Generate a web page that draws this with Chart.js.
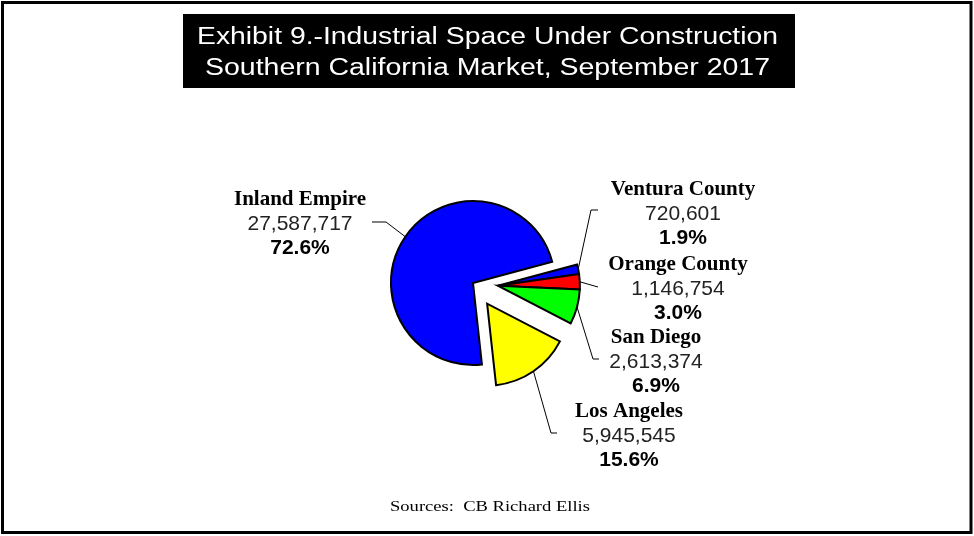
<!DOCTYPE html>
<html><head><meta charset="utf-8">
<script src="https://cdn.jsdelivr.net/npm/chart.js@4.4.1/dist/chart.umd.min.js"></script>
<style>html,body{margin:0;padding:0;background:#fff;}canvas{display:block;}</style>
</head><body>
<canvas id="c" width="974" height="536"></canvas>
<script>
// ---- data ----
const categories = ['Ventura County', 'Orange County', 'San Diego', 'Los Angeles', 'Inland Empire'];
const values = [720601, 1146754, 2613374, 5945545, 27587717];
const titleLines = ['Exhibit 9.-Industrial Space Under Construction', 'Southern California Market, September 2017'];
const sourceText = 'Sources:  CB Richard Ellis';

// ---- style / layout ----
const sliceColors = ['#0000ff', '#ff0000', '#00ff00', '#ffff00', '#0000ff'];
// slices in the same explode group are pulled out together along the group's mid-angle
const explodeGroup = [1, 1, 1, 2, 0];
const explodeDist = [0, 25, 25];
const labelLayout = [
  { x: 683, y: 195, leader: [[591, 210], [598, 210]] },
  { x: 678, y: 270, leader: [[598, 287]] },
  { x: 656, y: 343, leader: [[593, 359], [599, 359]] },
  { x: 629, y: 417, leader: [[551, 433], [557, 433]] },
  { x: 300, y: 205, leader: [[386, 222], [372, 222]] }
];

const total = values.reduce((a, b) => a + b, 0);

function drawFitted(ctx, text, cx, y, font, width) {
  ctx.save();
  ctx.font = font;
  const w = ctx.measureText(text).width;
  const s = width / w;
  ctx.translate(cx, y);
  ctx.scale(s, 1);
  ctx.textAlign = 'center';
  ctx.textBaseline = 'alphabetic';
  ctx.fillText(text, 0, 0);
  ctx.restore();
}

const decor = {
  id: 'decor',
  beforeDraw(chart) {
    const ctx = chart.ctx;
    ctx.save();
    ctx.fillStyle = '#fff';
    ctx.fillRect(0, 0, chart.width, chart.height);
    ctx.strokeStyle = '#000';
    ctx.lineWidth = 3;
    ctx.strokeRect(2.5, 2.5, 968.5, 530);
    ctx.fillStyle = '#000';
    ctx.fillRect(183, 14, 612, 74);
    ctx.fillStyle = '#fff';
    drawFitted(ctx, titleLines[0], 487.5, 43.5, '23px "Liberation Sans"', 581);
    drawFitted(ctx, titleLines[1], 487.5, 75, '23px "Liberation Sans"', 565);
    ctx.fillStyle = '#000';
    drawFitted(ctx, sourceText, 490, 511, '15px "Liberation Serif"', 200);
    ctx.restore();
  },
  afterDatasetsUpdate(chart) {
    const meta = chart.getDatasetMeta(0);
    const groups = {};
    meta.data.forEach((arc, i) => {
      const g = explodeGroup[i];
      if (!groups[g]) groups[g] = { s: arc.startAngle, e: arc.endAngle };
      groups[g].s = Math.min(groups[g].s, arc.startAngle);
      groups[g].e = Math.max(groups[g].e, arc.endAngle);
    });
    meta.data.forEach((arc, i) => {
      const g = explodeGroup[i];
      const d = explodeDist[g];
      if (!d) return;
      const mid = (groups[g].s + groups[g].e) / 2;
      arc.x += Math.cos(mid) * d;
      arc.y += Math.sin(mid) * d;
    });
  },
  afterDatasetsDraw(chart) {
    const ctx = chart.ctx;
    const meta = chart.getDatasetMeta(0);
    ctx.save();
    meta.data.forEach((arc, i) => {
      const mid = (arc.startAngle + arc.endAngle) / 2;
      const sx = arc.x + Math.cos(mid) * arc.outerRadius;
      const sy = arc.y + Math.sin(mid) * arc.outerRadius;
      const L = labelLayout[i];
      ctx.strokeStyle = '#000';
      ctx.lineWidth = 1;
      ctx.beginPath();
      ctx.moveTo(sx, sy);
      L.leader.forEach(p => ctx.lineTo(p[0], p[1]));
      ctx.stroke();
      ctx.fillStyle = '#000';
      ctx.textAlign = 'center';
      ctx.textBaseline = 'alphabetic';
      ctx.font = 'bold 21px "Liberation Serif"';
      ctx.fillText(categories[i], L.x, L.y);
      ctx.fillStyle = '#222';
      ctx.font = '21px "Liberation Sans"';
      ctx.fillText(values[i].toLocaleString('en-US'), L.x, L.y + 24.5);
      ctx.fillStyle = '#000';
      ctx.font = 'bold 21px "Liberation Sans"';
      ctx.fillText((values[i] / total * 100).toFixed(1) + '%', L.x, L.y + 48.5);
    });
    ctx.restore();
  }
};

new Chart(document.getElementById('c'), {
  type: 'pie',
  data: {
    labels: categories,
    datasets: [{
      data: values,
      backgroundColor: sliceColors,
      borderColor: '#000',
      borderWidth: 2,
      borderJoinStyle: 'miter'
    }]
  },
  options: {
    responsive: false,
    animation: false,
    events: [],
    rotation: 75,
    radius: 82,
    layout: { padding: { left: 300, right: 328, top: 150, bottom: 120 } },
    plugins: { legend: { display: false }, title: { display: false }, tooltip: { enabled: false } }
  },
  plugins: [decor]
});
</script>
</body></html>
